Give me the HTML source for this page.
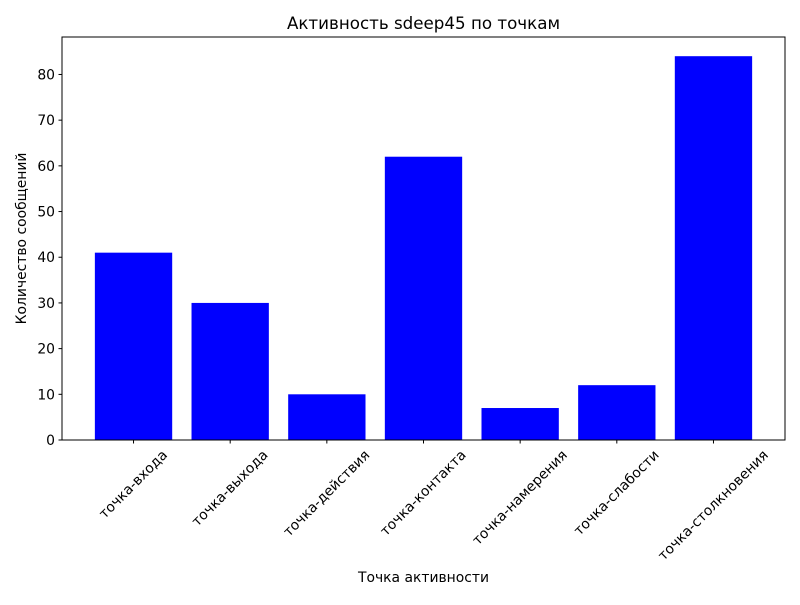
<!DOCTYPE html>
<html><head><meta charset="utf-8"><style>
body{margin:0;background:#fff}
svg text{font-family:"DejaVu Sans","Liberation Sans",sans-serif;fill:#000}
</style></head><body>
<svg id="chart" width="800" height="600" xmlns="http://www.w3.org/2000/svg">
<rect width="800" height="600" fill="#fff"/>
<text x="423.5" y="29" font-size="16.7" text-anchor="middle">Активность sdeep45 по точкам</text>
<g id="bars"></g><g id="yticks"></g><g id="xticks"></g>
<rect x="62" y="37" width="723" height="403" fill="none" stroke="#000" stroke-width="1"/>
<text x="423.5" y="582" font-size="13.9" text-anchor="middle">Точка активности</text>
<text transform="translate(26,238.5) rotate(-90)" font-size="13.9" text-anchor="middle">Количество сообщений</text>
</svg>
<script>
const categories=["точка-входа","точка-выхода","точка-действия","точка-контакта","точка-намерения","точка-слабости","точка-столкновения"];
const values=[41,30,10,62,7,12,84];
const yTicks=[0,10,20,30,40,50,60,70,80];
const L=62,R=785,T=37,B=440;
const ymax=Math.max(...values)*1.05;
const xmin=-0.4-0.05*(categories.length-1+0.8),xmax=categories.length-1+0.4+0.05*(categories.length-1+0.8);
const sx=v=>L+(v-xmin)/(xmax-xmin)*(R-L);
const sy=v=>B-v/ymax*(B-T);
const NS="http://www.w3.org/2000/svg";
const bars=document.getElementById('bars'),yt=document.getElementById('yticks'),xt=document.getElementById('xticks');
values.forEach((v,i)=>{
 const r=document.createElementNS(NS,'rect');
 r.setAttribute('x',sx(i-0.4));r.setAttribute('width',sx(i+0.4)-sx(i-0.4));
 r.setAttribute('y',sy(v));r.setAttribute('height',sy(0)-sy(v));r.setAttribute('fill','#0000ff');
 
 
 bars.appendChild(r);
});
yTicks.forEach(t=>{
 const y=sy(t);
 const l=document.createElementNS(NS,'line');
 l.setAttribute('x1',L-3.5);l.setAttribute('x2',L);l.setAttribute('y1',y);l.setAttribute('y2',y);l.setAttribute('stroke','#000');
 
 
 yt.appendChild(l);
 const tx=document.createElementNS(NS,'text');
 tx.setAttribute('x',L-7);tx.setAttribute('y',y+5);tx.setAttribute('font-size','13.9');tx.setAttribute('text-anchor','end');
 tx.textContent=t;
 
 
 yt.appendChild(tx);
});
categories.forEach((c,i)=>{
 const x=sx(i);
 const l=document.createElementNS(NS,'line');
 l.setAttribute('x1',x);l.setAttribute('x2',x);l.setAttribute('y1',B);l.setAttribute('y2',B+3.5);l.setAttribute('stroke','#000');
 
 
 xt.appendChild(l);
 const tx=document.createElementNS(NS,'text');
 tx.setAttribute('font-size','13.9');tx.setAttribute('text-anchor','middle');tx.setAttribute('dominant-baseline','central');
 tx.textContent=c;
 
 
 xt.appendChild(tx);
 const len=tx.getComputedTextLength();
 const h=(len+14)*0.7071;
 tx.setAttribute('transform','translate('+x+','+(B+8+h/2)+') rotate(-45)');
});
</script>
</body></html>
